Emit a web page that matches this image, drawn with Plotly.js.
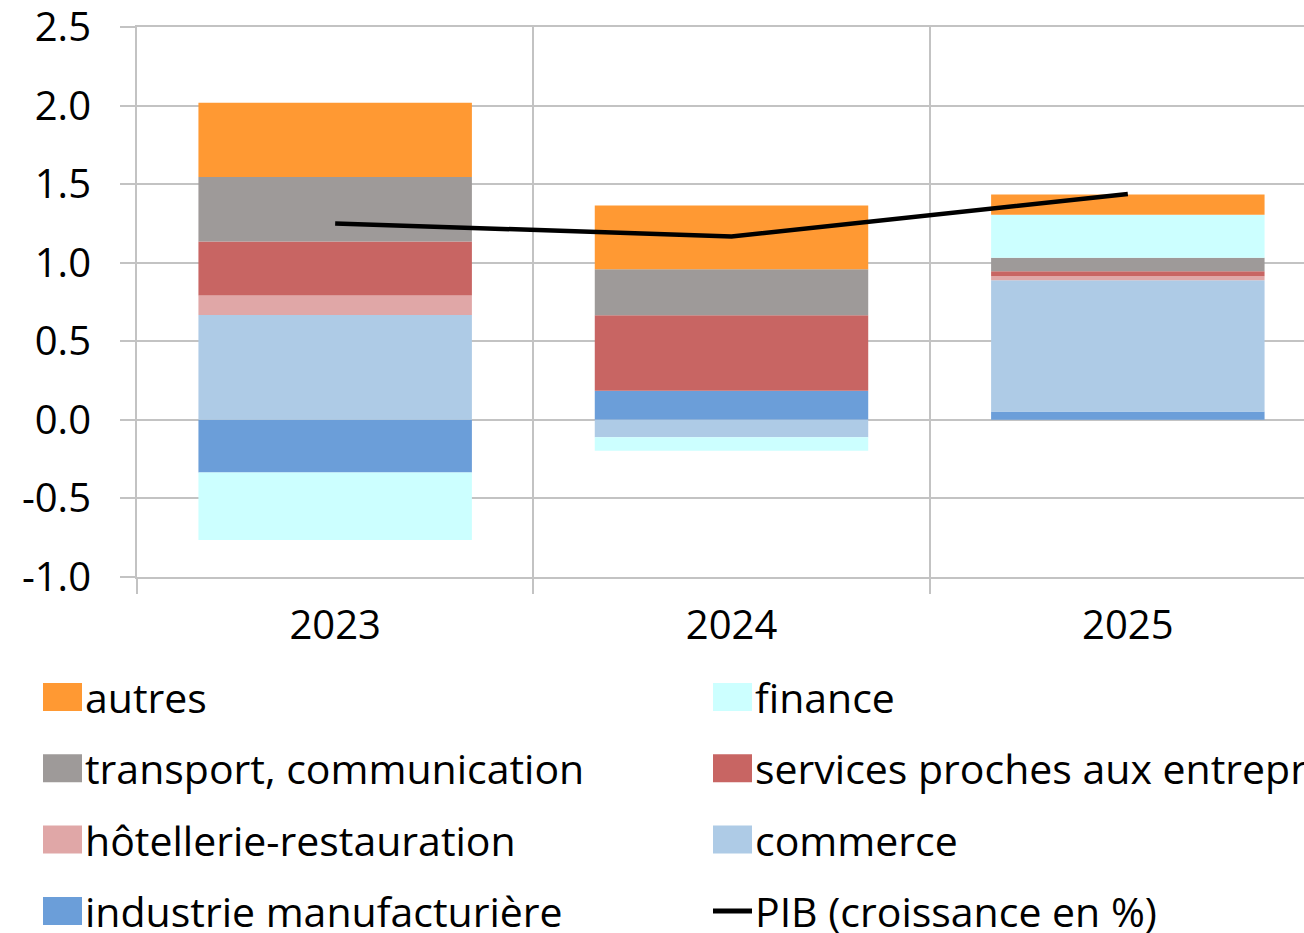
<!DOCTYPE html>
<html><head><meta charset="utf-8">
<script src="https://cdn.plot.ly/plotly-3.0.1.min.js"></script>
<style>html,body{margin:0;padding:0;overflow:hidden;background:#fff}</style>
</head><body><div id="chart"></div>
<script>
// ---- data ----
const years = ['2023', '2024', '2025'];
const industrie = [-0.335, 0.185, 0.053];
const commerce = [0.668, -0.110, 0.836];
const hotellerie = [0.123, 0.000, 0.025];
const services = [0.344, 0.481, 0.032];
const transport = [0.410, 0.293, 0.085];
const finance = [-0.429, -0.087, 0.274];
const autres = [0.473, 0.405, 0.129];
const pib = [1.250, 1.167, 1.437];
const yTickVals = [-1, -0.5, 0, 0.5, 1, 1.5, 2, 2.5];
const yTickText = ['-1.0', '-0.5', '0.0', '0.5', '1.0', '1.5', '2.0', '2.5'];

const seriesNames = ['industrie manufacturière', 'commerce', 'hôtellerie-restauration',
  'services proches aux entreprises', 'transport, communication', 'finance', 'autres'];
const seriesValues = [industrie, commerce, hotellerie, services, transport, finance, autres];
const seriesColors = ['#6b9ed9', '#aecbe6', '#e0a7a7', '#c86563', '#9e9a99', '#ccffff', '#ff9933'];
const pibName = 'PIB (croissance en %)';
const legendOrder = ['autres', 'finance', 'transport, communication', 'services proches aux entreprises',
  'hôtellerie-restauration', 'commerce', 'industrie manufacturière', pibName];

// ---- layout geometry ----
const W = 1330, H = 933;
const M = {l: 137, r: 4, t: 27, b: 356};
const pw = W - M.l - M.r, ph = H - M.t - M.b;
const px2x = p => (p - M.l) / pw;
const px2y = p => (H - M.b - p) / ph;
const FONT = 'Open Sans, sans-serif';
const GRID = '#c3c3c3';
const yRange = [yTickVals[0], yTickVals[yTickVals.length - 1]];

const traces = seriesNames.map((n, i) => ({
  type: 'bar', name: n, x: years, y: seriesValues[i],
  marker: {color: seriesColors[i], line: {width: 0}},
  showlegend: false
}));
traces.push({
  type: 'scatter', mode: 'lines', name: pibName, x: years, y: pib,
  line: {color: '#000', width: 4.5}, showlegend: false
});

// custom legend (large swatches as in the reference)
const shapes = [], annotations = [];
legendOrder.forEach((n, k) => {
  const col = k % 2, row = Math.floor(k / 2);
  const sx = col === 0 ? 43 : 713;
  const cy = 697 + row * 71.3;
  if (n === pibName) {
    shapes.push({type: 'line', xref: 'paper', yref: 'paper',
      x0: px2x(sx), x1: px2x(sx + 39), y0: px2y(cy), y1: px2y(cy),
      line: {color: '#000', width: 5}});
  } else {
    const idx = seriesNames.indexOf(n);
    shapes.push({type: 'rect', xref: 'paper', yref: 'paper',
      x0: px2x(sx), x1: px2x(sx + 39), y0: px2y(cy - 14), y1: px2y(cy + 14),
      fillcolor: seriesColors[idx], line: {width: 0}});
  }
  annotations.push({xref: 'paper', yref: 'paper', x: px2x(sx + 40), y: px2y(cy),
    xanchor: 'left', yanchor: 'middle', showarrow: false, text: n,
    font: {family: FONT, size: 41, color: '#000'}});
});

const layout = {
  width: W, height: H, margin: M,
  paper_bgcolor: '#fff', plot_bgcolor: '#fff',
  barmode: 'relative', bargap: 0.31,
  showlegend: false,
  font: {family: FONT, size: 40, color: '#000'},
  xaxis: {
    type: 'category', range: [-0.5, 2.5], tickson: 'boundaries',
    showgrid: true, gridcolor: GRID, gridwidth: 2,
    showline: true, mirror: true, linecolor: GRID, linewidth: 2,
    ticks: 'outside', ticklen: 15, tickcolor: GRID, tickwidth: 2,
    ticklabelstandoff: 12,
    tickfont: {family: FONT, size: 40, color: '#000'}
  },
  yaxis: {
    range: yRange, tickvals: yTickVals, ticktext: yTickText,
    showgrid: true, gridcolor: GRID, gridwidth: 2, zeroline: false,
    showline: true, linecolor: GRID, linewidth: 2,
    ticks: 'outside', ticklen: 15, tickcolor: GRID, tickwidth: 2,
    ticklabelstandoff: 21, ticklabeloverflow: 'allow',
    tickfont: {family: FONT, size: 40, color: '#000'}
  },
  shapes: shapes, annotations: annotations
};
Plotly.newPlot('chart', traces, layout, {staticPlot: true, displayModeBar: false});
</script></body></html>
